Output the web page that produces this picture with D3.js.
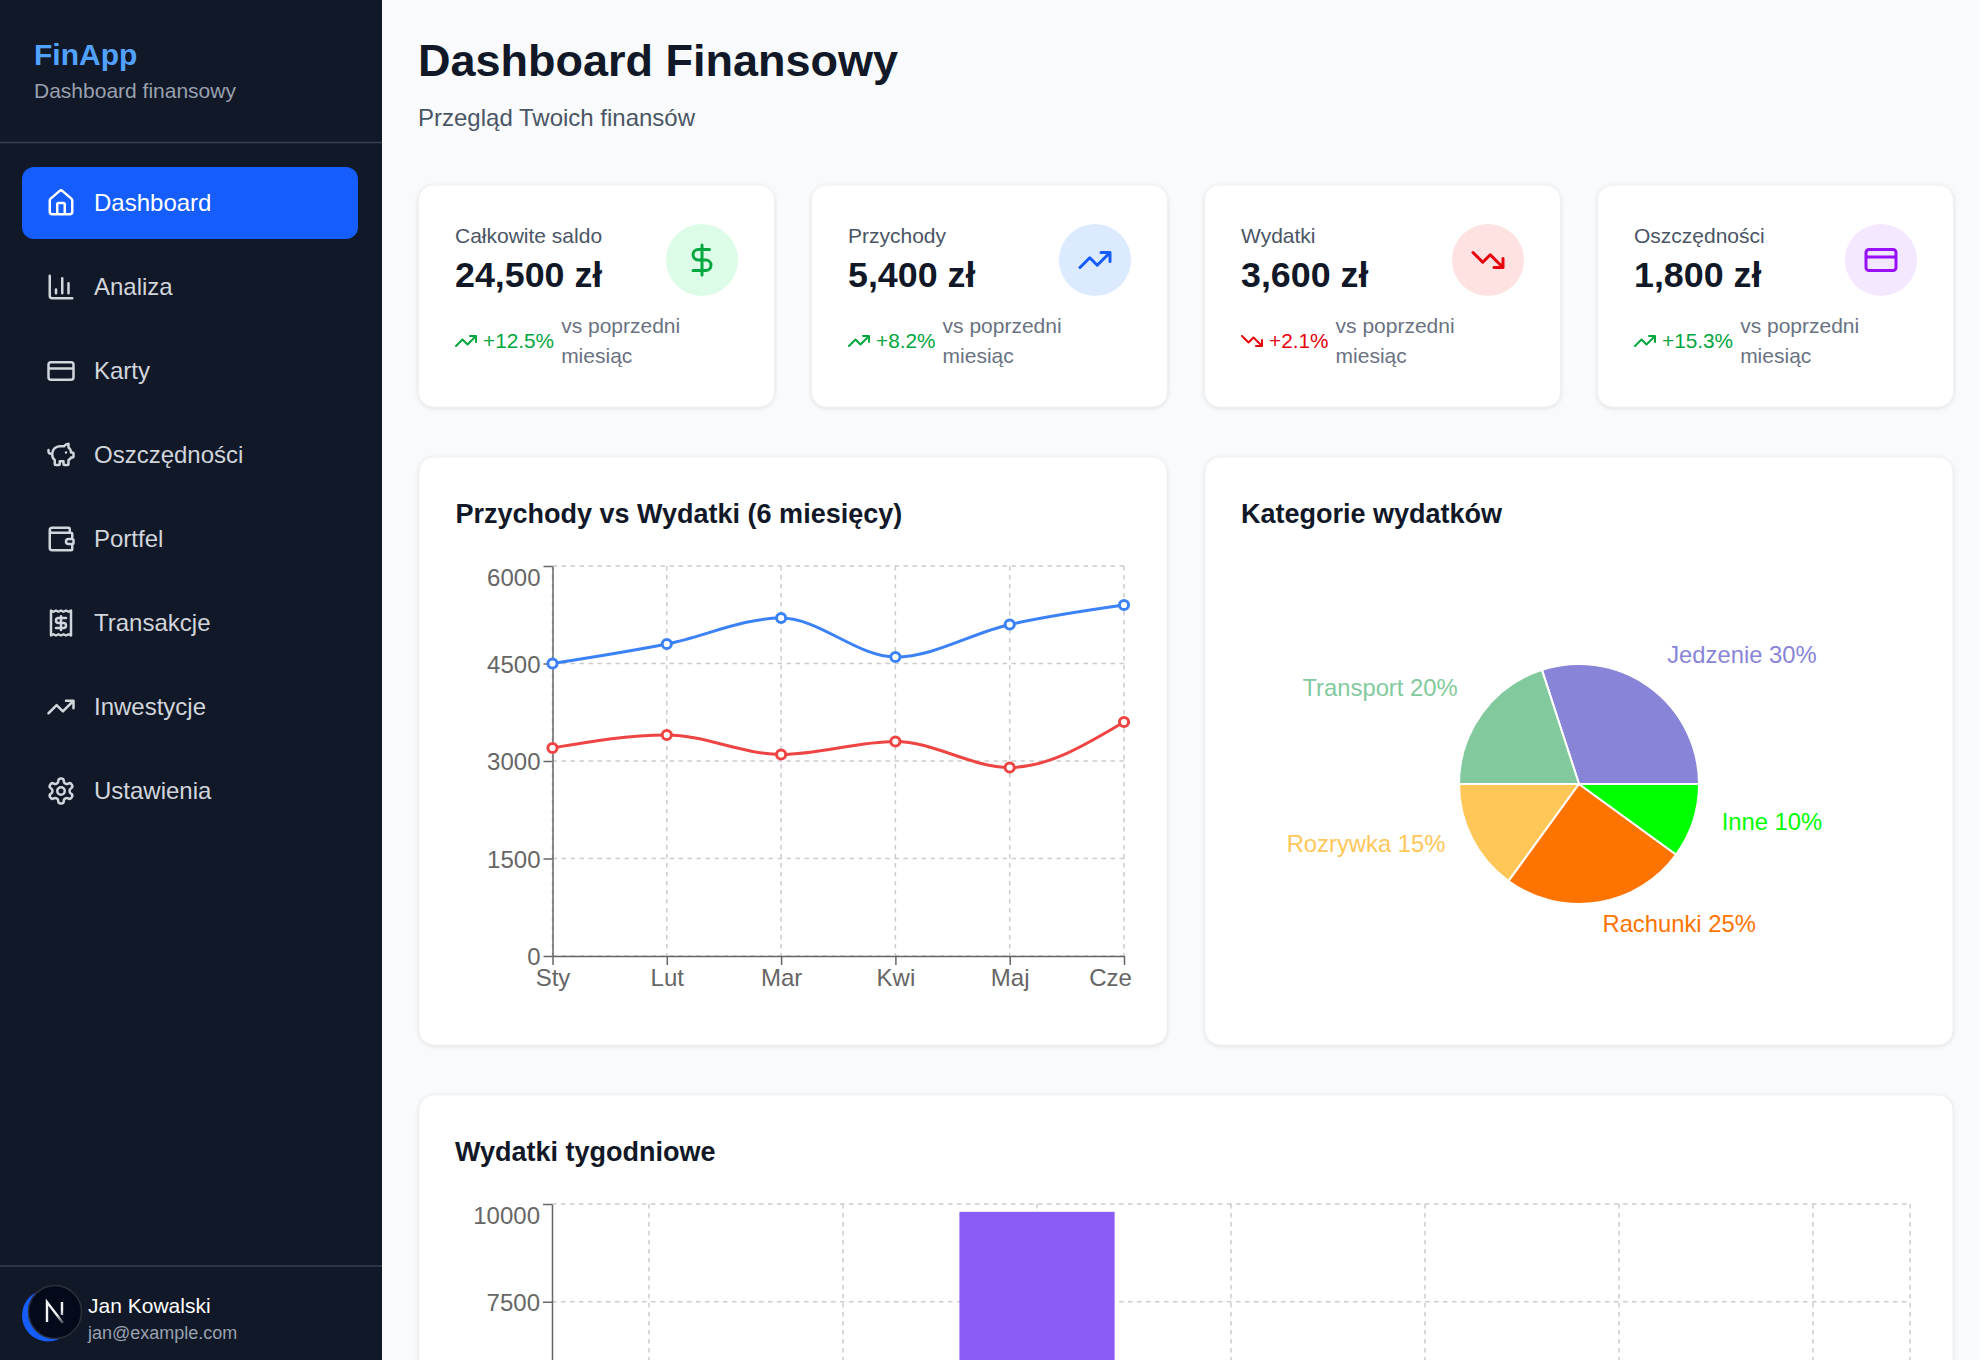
<!DOCTYPE html>
<html lang="pl">
<head>
<meta charset="utf-8">
<title>Dashboard Finansowy</title>
<script src="https://cdn.jsdelivr.net/npm/d3@7"></script>
<style>
  html, body { margin: 0; padding: 0; background: #f9fafb; overflow: hidden; }
  svg { display: block; font-family: "Liberation Sans", Arial, sans-serif; }
  .icon path { fill: none; stroke-linecap: round; stroke-linejoin: round; }
  .grid line { stroke: #ccc; stroke-width: 1.5; stroke-dasharray: 4.5 4.5; }
  .axis path, .axis line { stroke: #666; stroke-width: 1.5; fill: none; }
  .axis text { fill: #666; font-size: 24px; font-family: "Liberation Sans", Arial, sans-serif; }
</style>
</head>
<body>
<svg id="page" width="1979" height="1360"></svg>
<script>
// sidebar
var navLabels = ["Dashboard", "Analiza", "Karty", "Oszczędności", "Portfel", "Transakcje", "Inwestycje", "Ustawienia"];
var navIcons = ["house", "chart", "card", "piggy", "wallet", "receipt", "up", "gear"];

// stat cards
var statLabels = ["Całkowite saldo", "Przychody", "Wydatki", "Oszczędności"];
var statValues = ["24,500 zł", "5,400 zł", "3,600 zł", "1,800 zł"];
var statChanges = ["+12.5%", "+8.2%", "+2.1%", "+15.3%"];
var statTrend = ["up", "up", "down", "up"];
var statIcons = ["dollar", "up", "down", "card"];
var statBg = ["#dcfce7", "#dbeafe", "#fee2e2", "#f3e8ff"];
var statFg = ["#00a63e", "#155dfc", "#e7000b", "#9810fa"];

// line chart
var months = ["Sty", "Lut", "Mar", "Kwi", "Maj", "Cze"];
var income = [4500, 4800, 5200, 4600, 5100, 5400];
var expenses = [3200, 3400, 3100, 3300, 2900, 3600];
var lineTicks = [0, 1500, 3000, 4500, 6000];

// pie chart
var pieNames = ["Jedzenie", "Transport", "Rozrywka", "Rachunki", "Inne"];
var pieValues = [30, 20, 15, 25, 10];
var pieColors = ["#8884d8", "#82ca9d", "#ffc658", "#ff7300", "#00ff00"];

// weekly bars, only the third one is above the fold of the picture
var weekDays = ["Pon", "Wt", "Śr", "Czw", "Pt", "Sob", "Nie"];
var weekValues = [null, null, 9800, null, null, null, null];
var weekTicks = [7500, 10000];

var iconPaths = {
  house: "M15 21v-8a1 1 0 0 0-1-1h-4a1 1 0 0 0-1 1v8M3 10a2 2 0 0 1 .709-1.528l7-5.999a2 2 0 0 1 2.582 0l7 5.999A2 2 0 0 1 21 10v9a2 2 0 0 1-2 2H5a2 2 0 0 1-2-2z",
  chart: "M3 3v16a2 2 0 0 0 2 2h16M18 17V9M13 17V5M8 17v-3",
  card: "M4 5h16a2 2 0 0 1 2 2v10a2 2 0 0 1-2 2H4a2 2 0 0 1-2-2V7a2 2 0 0 1 2-2zM2 10h20",
  piggy: "M11 17h3v2a1 1 0 0 0 1 1h2a1 1 0 0 0 1-1v-3a3.16 3.16 0 0 0 2-2h1a1 1 0 0 0 1-1v-2a1 1 0 0 0-1-1h-1a5 5 0 0 0-2-4V3a4 4 0 0 0-3.2 1.6l-.3.4H11a6 6 0 0 0-6 6v1a5 5 0 0 0 2 4v3a1 1 0 0 0 1 1h2a1 1 0 0 0 1-1zM16 10h.01M2 8v1a2 2 0 0 0 2 2h1",
  wallet: "M19 7V4a1 1 0 0 0-1-1H5a2 2 0 0 0 0 4h15a1 1 0 0 1 1 1v4h-3a2 2 0 0 0 0 4h3a1 1 0 0 0 1-1v-2a1 1 0 0 0-1-1M3 5v14a2 2 0 0 0 2 2h15a1 1 0 0 0 1-1v-4",
  receipt: "M4 2v20l2-1 2 1 2-1 2 1 2-1 2 1 2-1 2 1V2l-2 1-2-1-2 1-2-1-2 1-2-1-2 1ZM16 8h-6a2 2 0 1 0 0 4h4a2 2 0 1 1 0 4H8M12 17.5v-11",
  up: "M22 7 13.5 15.5 8.5 10.5 2 17M16 7h6v6",
  down: "M22 17 13.5 8.5 8.5 13.5 2 7M16 17h6v-6",
  gear: "M12.22 2h-.44a2 2 0 0 0-2 2v.18a2 2 0 0 1-1 1.73l-.43.25a2 2 0 0 1-2 0l-.15-.08a2 2 0 0 0-2.73.73l-.22.38a2 2 0 0 0 .73 2.73l.15.1a2 2 0 0 1 1 1.72v.51a2 2 0 0 1-1 1.74l-.15.09a2 2 0 0 0-.73 2.73l.22.38a2 2 0 0 0 2.73.73l.15-.08a2 2 0 0 1 2 0l.43.25a2 2 0 0 1 1 1.73V20a2 2 0 0 0 2 2h.44a2 2 0 0 0 2-2v-.18a2 2 0 0 1 1-1.73l.43-.25a2 2 0 0 1 2 0l.15.08a2 2 0 0 0 2.73-.73l.22-.39a2 2 0 0 0-.73-2.73l-.15-.08a2 2 0 0 1-1-1.74v-.5a2 2 0 0 1 1-1.74l.15-.09a2 2 0 0 0 .73-2.73l-.22-.38a2 2 0 0 0-2.73-.73l-.15.08a2 2 0 0 1-2 0l-.43-.25a2 2 0 0 1-1-1.73V4a2 2 0 0 0-2-2zM15 12a3 3 0 1 1-6 0 3 3 0 0 1 6 0z",
  dollar: "M12 2v20M17 5H9.5a3.5 3.5 0 0 0 0 7h5a3.5 3.5 0 0 1 0 7H6"
};

var svg = d3.select("#page");

function label(parent, x, y, str, size, color, weight) {
  return parent.append("text")
    .attr("x", x).attr("y", y)
    .attr("font-size", size)
    .attr("fill", color)
    .attr("font-weight", weight || "normal")
    .text(str);
}

// lucide icons live on a 24 box, cx/cy is the centre of the box
function icon(parent, name, cx, cy, size, color) {
  var k = size / 24;
  parent.append("g").attr("class", "icon")
    .attr("transform", "translate(" + (cx - size / 2) + "," + (cy - size / 2) + ") scale(" + k + ")")
    .append("path")
    .attr("d", iconPaths[name])
    .attr("stroke", color)
    .attr("stroke-width", 2);
}

function card(x, y, w, h) {
  svg.append("rect")
    .attr("x", x).attr("y", y).attr("width", w).attr("height", h)
    .attr("rx", 15)
    .attr("fill", "#fff")
    .attr("stroke", "#f0f1f3")
    .style("filter", "drop-shadow(0 1.5px 2px rgba(0,0,0,0.10))");
}

/* ---- sidebar ---- */
var side = svg.append("g");
side.append("rect").attr("width", 382).attr("height", 1360).attr("fill", "#111827");
label(side, 34, 65, "FinApp", 30, "#51a2ff", "bold");
label(side, 34, 98, "Dashboard finansowy", 21, "#99a1af");
side.append("line").attr("x1", 0).attr("x2", 382).attr("y1", 142.5).attr("y2", 142.5).attr("stroke", "#364153").attr("stroke-width", 1.5);
side.append("rect").attr("x", 22).attr("y", 167).attr("width", 336).attr("height", 72).attr("rx", 12).attr("fill", "#155dfc");

navLabels.forEach(function(d, i) {
  var c = i == 0 ? "#fff" : "#d1d5dc";
  icon(side, navIcons[i], 61, 203 + 84 * i, 30, c);
  label(side, 94, 211 + 84 * i, d, 24, c);
});

side.append("line").attr("x1", 0).attr("x2", 382).attr("y1", 1266).attr("y2", 1266).attr("stroke", "#364153").attr("stroke-width", 1.5);
side.append("circle").attr("cx", 48).attr("cy", 1315.5).attr("r", 26).attr("fill", "#155dfc");
side.append("circle").attr("cx", 55).attr("cy", 1312).attr("r", 26.5).attr("fill", "#050a1a").attr("stroke", "#2c303a").attr("stroke-width", 1.5);
var fade = svg.append("defs").append("linearGradient").attr("id", "logoFade")
  .attr("gradientUnits", "userSpaceOnUse")
  .attr("x1", 46).attr("y1", 1302).attr("x2", 64).attr("y2", 1323);
fade.append("stop").attr("offset", "60%").attr("stop-color", "#f2f2f4");
fade.append("stop").attr("offset", "100%").attr("stop-color", "#f2f2f4").attr("stop-opacity", 0.2);
side.append("path").attr("d", "M47 1322V1302L63 1323M62 1302V1315").attr("fill", "none").attr("stroke", "url(#logoFade)").attr("stroke-width", 2.4);
label(side, 88, 1313, "Jan Kowalski", 21, "#fff");
label(side, 88, 1339, "jan@example.com", 18, "#99a1af");

/* ---- header ---- */
label(svg, 418, 75.5, "Dashboard Finansowy", 45, "#111827", "bold");
label(svg, 418, 126, "Przegląd Twoich finansów", 24, "#4a5565");

/* ---- stat cards ---- */
statLabels.forEach(function(d, i) {
  var x = 418.5 + 393 * i;
  card(x, 185, 356, 222);
  var g = svg.append("g").attr("transform", "translate(" + x + ",0)");
  label(g, 36.5, 243, d, 21, "#4a5565");
  label(g, 36.5, 287, statValues[i], 35.8, "#111827", "bold");
  g.append("circle").attr("cx", 283.5).attr("cy", 260).attr("r", 36).attr("fill", statBg[i]);
  icon(g, statIcons[i], 283.5, 260, 36, statFg[i]);

  var tc = statTrend[i] == "up" ? "#00a63e" : "#e7000b";
  icon(g, statTrend[i], 47.5, 341, 24, tc);
  var pct = label(g, 64.5, 348, statChanges[i], 20.8, tc);
  var vx = 64.5 + pct.node().getComputedTextLength() + 7;
  label(g, vx, 333, "vs poprzedni", 21, "#6a7282");
  label(g, vx, 363, "miesiąc", 21, "#6a7282");
});

/* ---- line chart ---- */
card(419, 457, 748, 588);
label(svg, 455.5, 522.5, "Przychody vs Wydatki (6 miesięcy)", 27, "#111827", "bold");

var lx = d3.scalePoint().domain(months).range([552.5, 1124]);
var ly = d3.scaleLinear().domain([0, 6000]).range([956, 566]);

var lgrid = svg.append("g").attr("class", "grid");
lgrid.selectAll(".h").data(lineTicks).enter().append("line")
  .attr("x1", lx.range()[0]).attr("x2", lx.range()[1])
  .attr("y1", function(d) { return ly(d); }).attr("y2", function(d) { return ly(d); });
lgrid.selectAll(".v").data(months).enter().append("line")
  .attr("x1", function(d) { return lx(d); }).attr("x2", function(d) { return lx(d); })
  .attr("y1", ly.range()[1]).attr("y2", ly.range()[0]);

var laxisX = svg.append("g").attr("class", "axis").attr("transform", "translate(0,956)")
  .call(d3.axisBottom(lx).tickSize(9).tickSizeOuter(0).tickPadding(2));
laxisX.selectAll("text").filter(function(d) { return d == "Cze"; }).attr("dx", -14);
laxisX.selectAll("text").attr("dy", "0.8em");

var laxisY = svg.append("g").attr("class", "axis").attr("transform", "translate(552.5,0)")
  .call(d3.axisLeft(ly).tickValues(lineTicks).tickFormat(d3.format("d")).tickSize(9).tickSizeOuter(0).tickPadding(3));
laxisY.selectAll("text").attr("dy", "0.36em");
// top label is pushed down inside the plot, as in the original
laxisY.selectAll("text").filter(function(d) { return d == 6000; }).attr("y", 11);

var series = [{ v: income, c: "#3b82f6" }, { v: expenses, c: "#ef4444" }];
var lineGen = d3.line()
  .x(function(d, i) { return lx(months[i]); })
  .y(function(d) { return ly(d); })
  .curve(d3.curveMonotoneX);

series.forEach(function(s) {
  svg.append("path").attr("d", lineGen(s.v)).attr("fill", "none").attr("stroke", s.c).attr("stroke-width", 3);
  svg.selectAll(null).data(s.v).enter().append("circle")
    .attr("cx", function(d, i) { return lx(months[i]); })
    .attr("cy", function(d) { return ly(d); })
    .attr("r", 4.6)
    .attr("fill", "#fff")
    .attr("stroke", s.c)
    .attr("stroke-width", 3);
});

/* ---- pie chart ---- */
card(1205, 457, 748, 588);
label(svg, 1241, 522.5, "Kategorie wydatków", 27, "#111827", "bold");

var pieR = 120, labelR = 150;
var pieG = svg.append("g").attr("transform", "translate(1579,784)");
var pie = d3.pie().sort(null).startAngle(Math.PI / 2).endAngle(Math.PI / 2 - 2 * Math.PI);
var arc = d3.arc().innerRadius(0).outerRadius(pieR);
var arcs = pie(pieValues);

pieG.selectAll("path").data(arcs).enter().append("path")
  .attr("d", arc)
  .attr("fill", function(d, i) { return pieColors[i]; })
  .attr("stroke", "#fff")
  .attr("stroke-width", 2);

pieG.selectAll("text").data(arcs).enter().append("text")
  .attr("x", function(d) { return labelR * Math.sin((d.startAngle + d.endAngle) / 2); })
  .attr("y", function(d) { return -labelR * Math.cos((d.startAngle + d.endAngle) / 2); })
  .attr("text-anchor", function(d) { return Math.sin((d.startAngle + d.endAngle) / 2) > 0 ? "start" : "end"; })
  .attr("font-size", 23.8)
  .attr("fill", function(d, i) { return pieColors[i]; })
  .text(function(d, i) { return pieNames[i] + " " + pieValues[i] + "%"; });

/* ---- weekly bars ---- */
card(419, 1095, 1534, 400);
label(svg, 455, 1161, "Wydatki tygodniowe", 27, "#111827", "bold");

var bx = d3.scaleBand().domain(weekDays).range([552, 1910]).paddingInner(0.2).paddingOuter(0.1);
var by = d3.scaleLinear().domain([0, 10000]).range([1595, 1204]);

var bgrid = svg.append("g").attr("class", "grid");
bgrid.selectAll(".h").data(weekTicks).enter().append("line")
  .attr("x1", 552).attr("x2", 1910)
  .attr("y1", function(d) { return by(d); }).attr("y2", function(d) { return by(d); });
bgrid.selectAll(".v").data(weekDays.concat(["end"])).enter().append("line")
  .attr("x1", function(d) { return d == "end" ? 1910 : bx(d) + bx.bandwidth() / 2; })
  .attr("x2", function(d) { return d == "end" ? 1910 : bx(d) + bx.bandwidth() / 2; })
  .attr("y1", by.range()[1]).attr("y2", by.range()[0]);

var baxisY = svg.append("g").attr("class", "axis").attr("transform", "translate(552,0)")
  .call(d3.axisLeft(by).tickValues(weekTicks).tickFormat(d3.format("d")).tickSize(9).tickSizeOuter(0).tickPadding(3));
baxisY.selectAll("text").attr("dy", "0.36em");
baxisY.selectAll("text").filter(function(d) { return d == 10000; }).attr("y", 11);

svg.selectAll(".bar").data(weekValues).enter().filter(function(d) { return d != null; }).append("rect")
  .attr("class", "bar")
  .attr("x", function(d) { return bx(weekDays[weekValues.indexOf(d)]); })
  .attr("width", bx.bandwidth())
  .attr("y", function(d) { return by(d); })
  .attr("height", function(d) { return by(0) - by(d); })
  .attr("fill", "#8b5cf6");
</script>
</body>
</html>
